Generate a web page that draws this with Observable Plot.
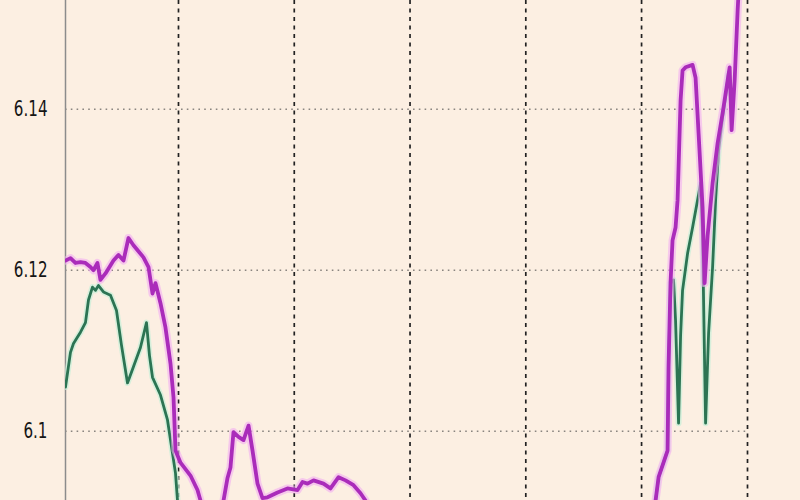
<!DOCTYPE html>
<html>
<head>
<meta charset="utf-8">
<script src="https://cdn.jsdelivr.net/npm/d3@7"></script>
<script src="https://cdn.jsdelivr.net/npm/@observablehq/plot@0.6"></script>
<style>
  html, body { margin: 0; padding: 0; background: #fcefe2; }
  #chart { width: 800px; height: 500px; overflow: hidden; }
</style>
</head>
<body>
<div id="chart"></div>
<script>
// Y-axis tick labels
const yTicks = [6.1, 6.12, 6.14];
// Vertical grid positions (time index), last one is the right edge
const xGrid = [20, 40, 60, 80, 100, 118.3];
const xDomain = [0.48, 118.3];
const yDomain = [6.0914, 6.1535];

// Magenta series (time index, value)
const magentaT = [0.5,1.34,2.2,3.07,3.93,4.79,5.31,6.0,6.52,7.39,8.77,9.63,10.5,11.36,12.22,13.95,14.82,15.51,16.03,16.89,17.75,18.62,19.14,19.48,20.35,22.07,23.28,23.8,25.87,27.78,28.47,28.98,29.5,30.37,31.23,32.1,32.79,33.65,34.51,35.38,37.11,38.83,40.56,41.43,42.29,43.33,45.05,46.26,47.65,48.86,50.24,51.45,52.31,54.9,62,75,90,99.8,102.42,102.94,104.49,104.66,105.0,105.35,105.87,106.22,106.74,107.08,107.6,108.81,109.33,109.85,110.54,110.89,111.41,112.27,113.14,114.0,114.87,115.22,115.56,116.08,116.6,116.95];
const magentaV = [6.1212,6.1215,6.1209,6.1210,6.1209,6.1204,6.1200,6.1209,6.1188,6.1196,6.1212,6.1219,6.1212,6.1240,6.1231,6.1216,6.1204,6.1171,6.1184,6.1159,6.1129,6.1084,6.1042,6.0976,6.0961,6.0945,6.0927,6.0914,6.0865,6.0914,6.0942,6.0955,6.0999,6.0993,6.0989,6.1007,6.0976,6.0935,6.0917,6.0918,6.0924,6.0929,6.0927,6.0937,6.0935,6.0939,6.0935,6.0929,6.0943,6.0939,6.0933,6.0923,6.0914,6.0860,6.0840,6.0830,6.0835,6.0850,6.0914,6.0943,6.0976,6.1080,6.1184,6.1237,6.1253,6.1287,6.1411,6.1448,6.1452,6.1455,6.1439,6.1370,6.1278,6.1184,6.1243,6.1308,6.1358,6.1395,6.1436,6.1452,6.1374,6.1436,6.1523,6.1573];

// Green series (time index, value)
const greenT = [0.48,1.34,1.86,3.07,3.93,4.45,5.14,5.66,6.18,7.04,8.25,9.29,10.15,11.19,12.22,13.43,14.47,14.99,15.51,16.89,18.1,18.96,19.48,19.83,21.2,30,50,70,90,99.8,102.42,102.94,104.49,104.66,105.0,105.52,105.87,106.39,106.74,107.08,107.95,108.81,109.67,110.19,110.54,110.71,111.06,111.58,112.27,112.79,113.31,114.0,114.52,115.0];
const greenV = [6.1055,6.1098,6.1109,6.1123,6.1135,6.1163,6.1179,6.1175,6.1181,6.1173,6.1169,6.1150,6.1107,6.1060,6.1080,6.1104,6.1135,6.1094,6.1067,6.1045,6.1014,6.0973,6.0948,6.0914,6.0850,6.0830,6.0820,6.0825,6.0830,6.0850,6.0914,6.0943,6.0976,6.1080,6.1184,6.1188,6.1138,6.1010,6.1119,6.1175,6.1221,6.1253,6.1287,6.1308,6.1243,6.1163,6.1010,6.1122,6.1204,6.1287,6.1349,6.1390,6.1415,6.1445];

const magenta = magentaT.map((t, i) => ({t, v: magentaV[i]}));
const green = greenT.map((t, i) => ({t, v: greenV[i]}));

const chart = Plot.plot({
  width: 800,
  height: 500,
  marginLeft: 65,
  marginRight: 53,
  marginTop: 0,
  marginBottom: 0,
  style: {background: "#fcefe2", fontFamily: "'DejaVu Sans', sans-serif"},
  x: {domain: xDomain, axis: null},
  y: {domain: yDomain, axis: null},
  marks: [
    Plot.ruleY(yTicks, {stroke: "#8a8580", strokeWidth: 1.6, strokeDasharray: "1.6,4.2"}),
    Plot.ruleX(xGrid, {stroke: "#222", strokeWidth: 1.7, strokeDasharray: "4,4.5"}),
    Plot.ruleX([xDomain[0]], {stroke: "#8c8c8c", strokeWidth: 1.5}),
    Plot.axisY({ticks: yTicks, label: null, tickSize: 0, tickPadding: 18, fontSize: 21, fill: "#151515", className: "ylab", tickFormat: d => String(d)}),
    Plot.line(green, {x: "t", y: "v", stroke: "#c6efd8", strokeWidth: 6, strokeOpacity: 0.7, clip: true}),
    Plot.line(green, {x: "t", y: "v", stroke: "#2c7453", strokeWidth: 2.8, clip: true}),
    Plot.line(magenta, {x: "t", y: "v", stroke: "#f2aef2", strokeWidth: 8, strokeOpacity: 0.6, clip: true}),
    Plot.line(magenta, {x: "t", y: "v", stroke: "#aa2cba", strokeWidth: 3.8, clip: true})
  ]
});
document.getElementById("chart").appendChild(chart);
// Condense the y tick labels horizontally, like the reference's narrow font
chart.querySelectorAll(".ylab text").forEach(t => {
  const w = t.getComputedTextLength();
  t.setAttribute("textLength", (w * 0.72).toFixed(1));
  t.setAttribute("lengthAdjust", "spacingAndGlyphs");
});
</script>
</body>
</html>
